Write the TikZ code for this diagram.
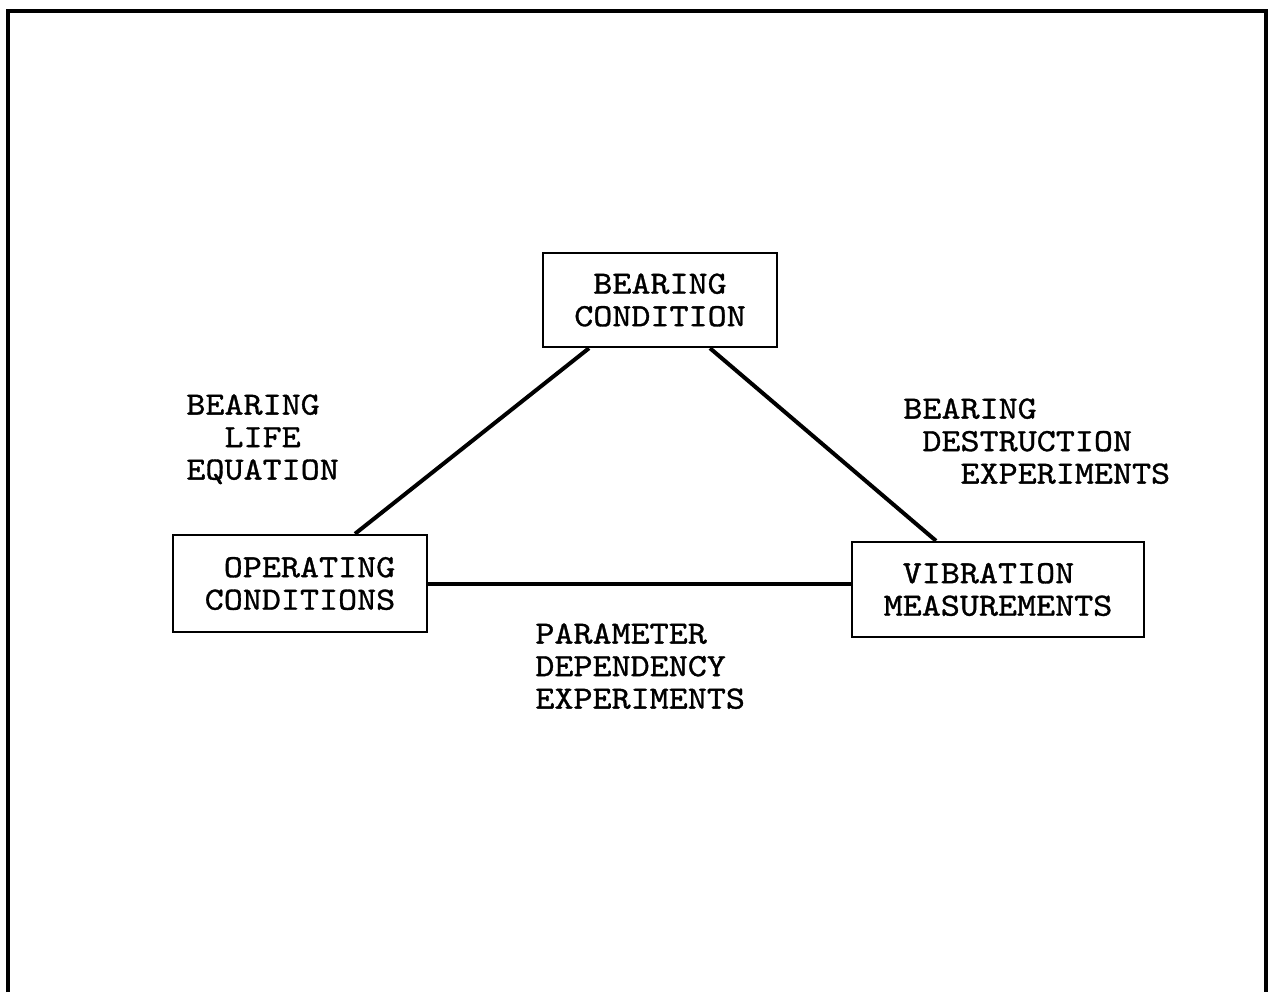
\documentclass[tikz,border=0pt]{standalone}
\usepackage{fontspec}
\usetikzlibrary{calc}
% typewriter face, widened to the spacing of the original typescript
\newfontfamily\typer{lmmono10-regular.otf}[FakeStretch=1.12, FakeBold=1]
\begin{document}
\begin{tikzpicture}[x=0.5pt, y=-0.5pt,
  tw/.style={font=\typer\fontsize{16.2}{16.25}\selectfont},
  blk/.style={draw, line width=1.2pt, tw, align=left, inner sep=0pt},
  lbl/.style={tw, align=left, inner sep=0pt, anchor=north west},
  link/.style={line width=2pt},
  frame/.style={line width=1.6pt}]
\useasboundingbox (0,0) rectangle (1274,992);
% outer frame, open at the bottom edge of the sheet
\draw[frame] (8,992) -- (8,11) -- (1266,11) -- (1266,992);

% the three boxes
\node[blk, minimum width=117pt, minimum height=47pt] (bc) at (660,300)
  {\hphantom{X}BEARING\\CONDITION};
\node[blk, minimum width=127pt, minimum height=48.5pt] (oc) at (300,583.5)
  {\hphantom{X}OPERATING\\CONDITIONS};
\node[blk, minimum width=146pt, minimum height=47.5pt] (vm) at (998,589.5)
  {\hphantom{X}VIBRATION\\MEASUREMENTS};

% connecting lines
\draw[link] ($(bc.south)+(-71,0)$) -- ($(oc.north)+(55,0)$);
\draw[link] ($(bc.south)+(50,0)$) -- ($(vm.north)+(-62,0)$);
\draw[link] (oc.east) -- (oc.east -| vm.west);

% edge labels
\node[lbl] (life) at (186,394) {BEARING\\\hphantom{XX}LIFE\\EQUATION};
\node[lbl] (destr) at (903,398)
  {BEARING\\\hphantom{X}DESTRUCTION\\\hphantom{XXX}EXPERIMENTS};
\node[lbl] (param) at (535,623) {PARAMETER\\DEPENDENCY\\EXPERIMENTS};
\end{tikzpicture}
\end{document}
